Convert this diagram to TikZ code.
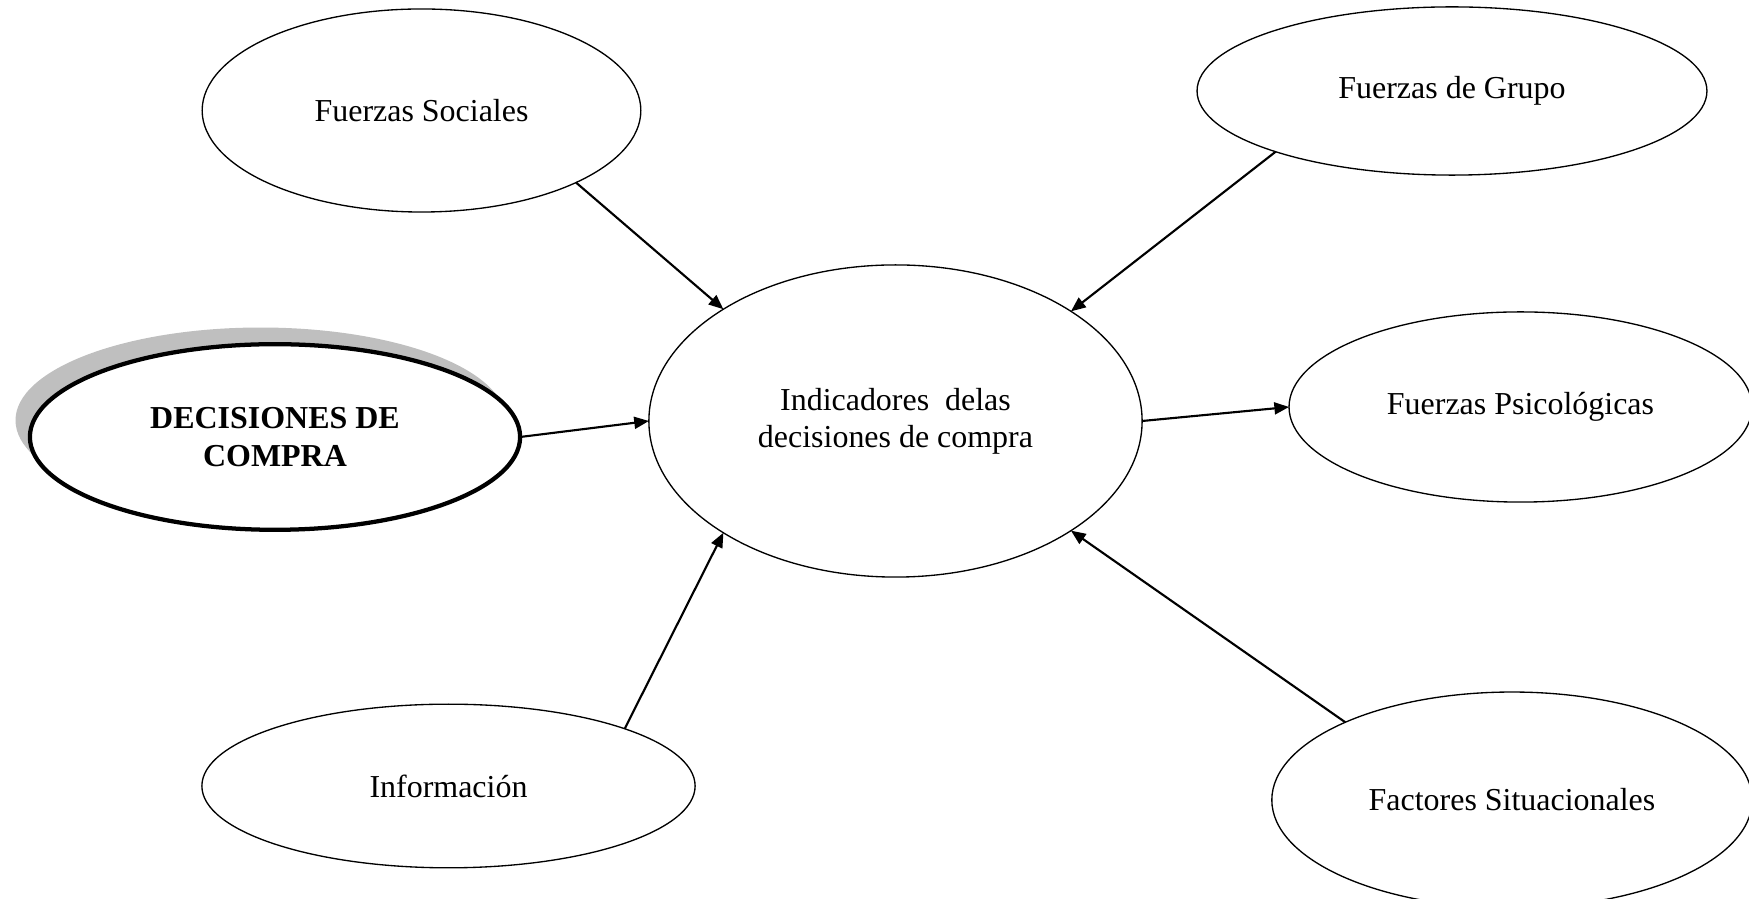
\documentclass[tikz,border=0pt]{standalone}
\usepackage{fontspec}
\setmainfont{Liberation Serif}
\usepackage{tikz}
\usetikzlibrary{arrows.meta, positioning, shapes.geometric, shadows}

\begin{document}
\begin{tikzpicture}[
          x=0.0132cm, y=-0.0132cm,
          font=\fontsize{12}{14}\selectfont,
          oval/.style={draw, ellipse, inner sep=0pt, outer sep=0pt, line width=0.5pt, fill=white, align=center},
          main/.style={oval, line width=1.6pt, font=\fontsize{12}{14}\selectfont\bfseries,
              drop shadow={shadow xshift=-0.19cm, shadow yshift=0.22cm, fill=gray!50, opacity=1}},
          arrow/.style={-{Triangle[length=5.5pt, width=4.5pt]}, line width=0.8pt}
        ]

        \useasboundingbox (0,0) rectangle (1749,899);

        % -------- Centre --------
        \node[oval, minimum width=6.51cm, minimum height=4.12cm] (ind) at (895.5,421)
            {Indicadores\ \ delas\\decisiones de compra};

        % -------- Forces round it --------
        \node[oval, minimum width=5.79cm, minimum height=2.68cm] (soc) at (421.5,110.5) {Fuerzas Sociales};
        \node[oval, minimum width=6.73cm, minimum height=2.22cm] (gru) at (1452,91) {Fuerzas de Grupo};
        \node[oval, minimum width=6.11cm, minimum height=2.51cm] (psi) at (1520.5,407) {Fuerzas Psicológicas};
        \node[oval, minimum width=6.34cm, minimum height=2.85cm] (sit) at (1512,800) {Factores Situacionales};
        \node[oval, minimum width=6.51cm, minimum height=2.16cm] (inf) at (448.5,786) {Información};

        % -------- Purchase decisions --------
        \node[main, minimum width=6.47cm, minimum height=2.45cm] (dec) at (275,437) {DECISIONES DE\\COMPRA};

        % -------- Arrows --------
        \draw[arrow] (soc.335) -- (ind.147);
        \draw[arrow] (gru.199) -- (ind.32);
        \draw[arrow] (dec.east) -- (ind.west);
        \draw[arrow] (ind.east) -- (psi.west);
        \draw[arrow] (inf.18) -- (ind.213);
        \draw[arrow] (sit.155) -- (ind.-32);

      \end{tikzpicture}
\end{document}
